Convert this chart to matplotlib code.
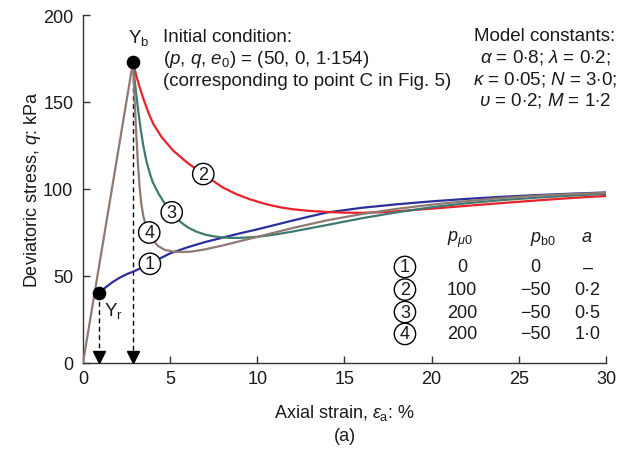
import numpy as np
import matplotlib.pyplot as plt

plt.rcParams['font.family'] = ['Liberation Sans', 'DejaVu Sans']
plt.rcParams['mathtext.fontset'] = 'custom'
plt.rcParams['mathtext.rm'] = 'Liberation Sans'
plt.rcParams['mathtext.it'] = 'Liberation Sans:italic'
plt.rcParams['mathtext.bf'] = 'Liberation Sans:bold'

# --- данные ---
# упругий участок и точки текучести
elastic_x = [0.0, 2.87]
elastic_q = [0.0, 173.0]
yr_point = (0.92, 40.0)
yb_point = (2.87, 173.0)

# кривая 1 (синяя)
c1_x = [0.92, 1.3, 1.7, 2.1, 2.5, 3.0, 3.3, 3.8, 4.5, 5.0, 6.0, 7.0, 8.0, 9.0, 10.0,
        11.0, 12.0, 13.0, 14.0, 16.0, 18.0, 20.0, 22.0, 24.0, 26.0, 28.0, 30.0]
c1_q = [40.0, 43.5, 46.5, 49.0, 51.0, 53.0, 54.5, 57.0, 60.5, 63.0, 66.5, 69.5, 72.0, 74.5, 76.8,
        79.3, 81.8, 84.2, 86.5, 89.2, 91.2, 92.9, 94.3, 95.5, 96.5, 97.3, 98.0]

# кривая 2 (красная)
c2_x = [2.87, 3.05, 3.25, 3.46, 3.75, 4.03, 4.5, 5.18, 6.0, 6.9, 8.0, 8.8, 9.6, 10.5, 11.3,
        12.0, 13.0, 14.0, 15.0, 16.0, 17.0, 18.0, 20.0, 22.0, 24.0, 26.0, 28.0, 30.0]
c2_q = [173.0, 165.5, 158.5, 152.0, 144.0, 137.5, 130.0, 122.0, 115.0, 108.5, 101.0, 97.0, 94.0, 91.3, 89.5,
        88.4, 87.4, 86.8, 86.4, 86.3, 86.6, 87.2, 88.7, 90.3, 91.9, 93.4, 94.8, 96.0]

# кривая 3 (зелёная)
c3_x = [2.87, 2.95, 3.05, 3.15, 3.3, 3.45, 3.65, 3.85, 4.0, 4.3, 4.6, 5.1, 5.6, 6.0, 6.5, 7.0,
        7.5, 8.0, 8.5, 9.0, 10.0, 11.0, 12.0, 14.0, 16.0, 18.0, 20.0, 22.0, 24.0, 26.0, 28.0, 30.0]
c3_q = [173.0, 164.0, 155.0, 146.5, 135.0, 125.5, 115.5, 108.5, 104.0, 98.0, 93.0, 86.5, 81.0, 78.0, 75.5, 73.8,
        72.8, 72.2, 71.9, 71.9, 72.5, 73.8, 75.5, 79.3, 83.2, 86.6, 89.5, 91.8, 93.6, 95.0, 96.2, 97.2]

# кривая 4 (коричневая)
c4_x = [2.87, 2.95, 3.05, 3.15, 3.25, 3.35, 3.47, 3.6, 3.8, 4.0, 4.3, 4.7, 5.2, 5.7, 6.2, 7.0, 8.0,
        9.0, 10.0, 11.0, 12.0, 14.0, 16.0, 18.0, 20.0, 22.0, 24.0, 26.0, 28.0, 30.0]
c4_q = [173.0, 154.0, 133.0, 115.0, 101.0, 91.0, 84.0, 79.5, 74.5, 70.8, 67.3, 65.0, 64.0, 63.8, 64.0, 65.3, 67.5,
        70.0, 72.5, 75.0, 77.5, 82.0, 85.6, 88.6, 91.0, 93.0, 94.8, 96.1, 97.1, 97.8]

# таблица параметров
tab_ids = ['1', '2', '3', '4']
tab_pu0 = ['0', '100', '200', '200']
tab_pb0 = ['0', '\u221250', '\u221250', '\u221250']
tab_a = ['\u2013', '0\u00b72', '0\u00b75', '1\u00b70']

x_ticks = [0, 5, 10, 15, 20, 25, 30]
y_ticks = [0, 50, 100, 150, 200]

col_blue = '#2b2f9b'
col_red = '#e8222a'
col_green = '#3f7a70'
col_brown = '#8f7a73'
txt_col = '#1a1a1a'
FS = 13
FS_NOTE = 13.5

fig = plt.figure(figsize=(6.31, 4.52), dpi=100)
ax = fig.add_axes([0.1315, 0.1947, 0.8288, 0.7699])

# кривые
ax.plot(c1_x, c1_q, color=col_blue, lw=1.6, zorder=3)
ax.plot(c2_x, c2_q, color=col_red, lw=1.6, zorder=3)
ax.plot(c3_x, c3_q, color=col_green, lw=1.6, zorder=3)
ax.plot(c4_x, c4_q, color=col_brown, lw=1.6, zorder=3)
ax.plot(elastic_x, elastic_q, color=col_brown, lw=1.6, zorder=3)

# пунктирные стрелки от точек текучести
for px, pq in (yr_point, yb_point):
    ax.plot([px, px], [pq, 4], color='k', lw=1, dashes=(3.5, 2.5), zorder=2)
    ax.plot(px, 3.45, marker='v', color='k', markersize=8.6, clip_on=False, zorder=4)
    ax.plot(px, pq, 'o', color='k', markersize=8.8, zorder=6)

ax.text(3.2, 184.5, r'Y$_\mathrm{b}$', fontsize=FS_NOTE, ha='center', va='baseline', color=txt_col)
ax.text(1.2, 27.5, r'Y$_\mathrm{r}$', fontsize=FS_NOTE, ha='left', va='baseline', color=txt_col)

# номера кривых в кружках
def circ(x, y, s):
    ax.text(x, y, s, fontsize=FS, ha='center', va='center', color=txt_col, zorder=7,
            bbox=dict(boxstyle='circle,pad=0.12', fc='white', ec='black', lw=1))

circ(3.84, 57.0, '1')
circ(6.9, 108.6, '2')
circ(5.09, 86.6, '3')
circ(3.8, 75.0, '4')

# начальные условия
init_lines = ['Initial condition:',
              r'($p$, $q$, $e_0$) = (50, 0, 1$\cdot$154)',
              '(corresponding to point C in Fig. 5)']
for line, qy in zip(init_lines, [185.3, 172.6, 160.0]):
    ax.text(4.59, qy, line, fontsize=FS_NOTE, ha='left', va='baseline', color=txt_col)

# константы модели
const_lines = ['Model constants:',
               r'$\alpha$ = 0$\cdot$8; $\lambda$ = 0$\cdot$2;',
               r'$\kappa$ = 0$\cdot$05; $N$ = 3$\cdot$0;',
               r'$\upsilon$ = 0$\cdot$2; $M$ = 1$\cdot$2']
for line, qy in zip(const_lines, [185.8, 173.2, 160.9, 148.3]):
    ax.text(26.5, qy, line, fontsize=FS_NOTE, ha='center', va='baseline', color=txt_col)

# таблица
ax.text(21.63, 70.0, r'$p_{\mu 0}$', fontsize=FS, ha='center', va='baseline', color=txt_col)
ax.text(26.4, 70.0, r'$p_\mathrm{b0}$', fontsize=FS, ha='center', va='baseline', color=txt_col)
ax.text(28.9, 70.0, r'$a$', fontsize=FS, ha='center', va='baseline', color=txt_col)
row_q = [55.2, 42.2, 29.3, 16.7]
for i, qy in enumerate(row_q):
    circ(18.47, qy, tab_ids[i])
    ax.text(21.75, qy, tab_pu0[i], fontsize=FS, ha='center', va='center', color=txt_col)
    ax.text(25.95, qy, tab_pb0[i], fontsize=FS, ha='center', va='center', color=txt_col)
    ax.text(28.95, qy, tab_a[i], fontsize=FS, ha='center', va='center', color=txt_col)

# оси
ax.set_xlim(0, 30)
ax.set_ylim(0, 200)
ax.set_xticks(x_ticks)
ax.set_yticks(y_ticks)
for s in ('top', 'right'):
    ax.spines[s].set_visible(False)
for s in ('left', 'bottom'):
    ax.spines[s].set_color('#333333')
    ax.spines[s].set_linewidth(1)
ax.tick_params(axis='both', direction='in', length=5, width=1, color='#333333',
               labelsize=FS, labelcolor=txt_col)
ax.tick_params(axis='x', pad=5)
ax.tick_params(axis='y', pad=7)

fig.text(33 / 631, 1 - 190 / 452, r'Deviatoric stress, $q$: kPa', fontsize=FS,
         rotation=90, ha='center', va='center', color=txt_col)
fig.text(344.5 / 631, 1 - 418 / 452, r'Axial strain, $\varepsilon_\mathrm{a}$: %', fontsize=FS,
         ha='center', va='baseline', color=txt_col)
fig.text(344.5 / 631, 1 - 441 / 452, '(a)', fontsize=FS, ha='center', va='baseline', color=txt_col)

fig.savefig('out.png', dpi=100)
